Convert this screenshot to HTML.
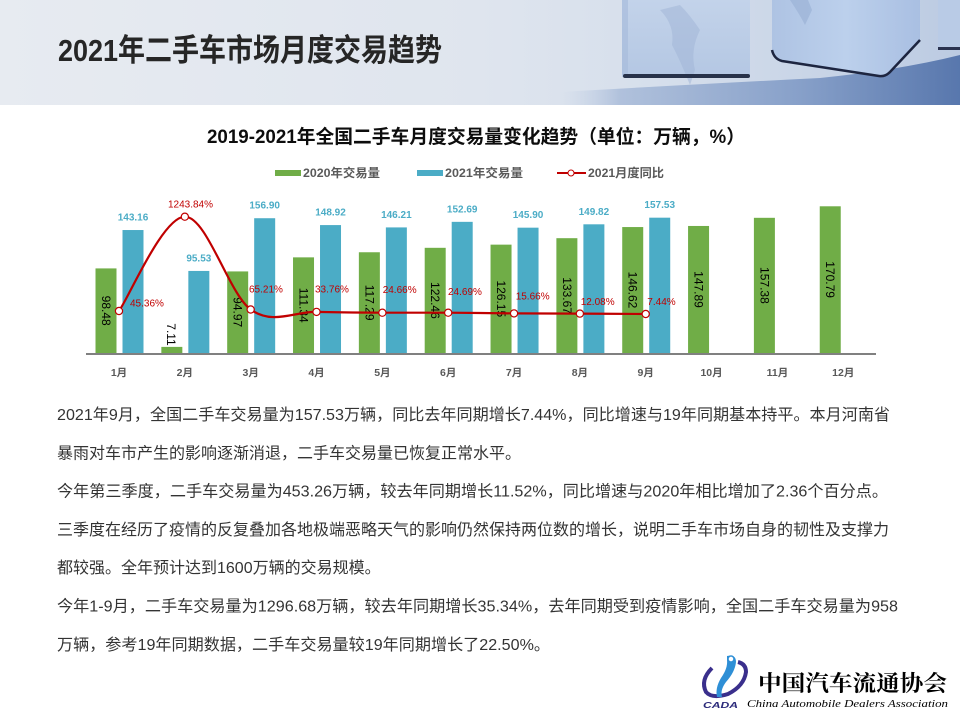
<!DOCTYPE html>
<html>
<head>
<meta charset="utf-8">
<style>
html,body{margin:0;padding:0;background:#fff;width:960px;height:720px;overflow:hidden;}
svg{display:block;}
.cjk{font-family:"Liberation Sans","Noto Sans CJK SC",sans-serif;}
</style>
</head>
<body>
<svg width="960" height="720" viewBox="0 0 960 720" xmlns="http://www.w3.org/2000/svg">
<defs>
  <linearGradient id="bg" x1="0" y1="0" x2="1" y2="0">
    <stop offset="0" stop-color="#e7ebf1"/>
    <stop offset="0.5" stop-color="#dfe5ee"/>
    <stop offset="0.68" stop-color="#d6dfec"/>
    <stop offset="1" stop-color="#bccbe2"/>
  </linearGradient>
  <linearGradient id="floor" x1="0" y1="0" x2="1" y2="0">
    <stop offset="0" stop-color="#c9d5e7" stop-opacity="0"/>
    <stop offset="0.15" stop-color="#b0c1dc"/>
    <stop offset="0.6" stop-color="#87a0c9"/>
    <stop offset="1" stop-color="#5877ad"/>
  </linearGradient>
  <linearGradient id="cubeA" x1="0" y1="0" x2="0" y2="1">
    <stop offset="0" stop-color="#c3d3ea"/>
    <stop offset="1" stop-color="#b4c7e3"/>
  </linearGradient>
  <linearGradient id="cubeB" x1="0" y1="0" x2="1" y2="0">
    <stop offset="0" stop-color="#aec3e3"/>
    <stop offset="0.5" stop-color="#bcd0ec"/>
    <stop offset="1" stop-color="#a9bfe2"/>
  </linearGradient>
</defs>

<!-- Banner -->
<rect x="0" y="0" width="960" height="105" fill="url(#bg)"/>
<path d="M560 105 L560 92 Q700 84 820 78 Q900 70 960 55 L960 105 Z" fill="url(#floor)"/>
<!-- cube A -->
<rect x="622" y="0" width="128" height="77" fill="url(#cubeA)"/>
<rect x="622" y="0" width="6" height="75" fill="#a8bcdc" opacity="0.7"/>
<path d="M660 10 Q675 25 672 45 Q680 60 690 85 L695 70 Q690 50 700 30 Q690 15 680 5 Z" fill="#9fb4d6" opacity="0.5"/>
<rect x="623" y="74" width="127" height="4" rx="2" fill="#27324a"/>
<!-- cube B -->
<path d="M772 0 L772 52 Q773 59 781 61 L879 76 Q885 77 890 72 L920 40 L920 0 Z" fill="url(#cubeB)"/>
<path d="M772 50 Q774 59 782 61 L879 76 Q885 77 890 72 L920 40" fill="none" stroke="#1d2540" stroke-width="2.5"/>
<path d="M790 0 Q800 15 805 25 L812 10 L808 0 Z" fill="#98afd3" opacity="0.6"/>
<!-- cube C -->
<rect x="938" y="0" width="22" height="50" fill="#b9cbe6"/>
<rect x="938" y="47" width="22" height="3" fill="#2a3350"/>

<text x="58" y="61" class="cjk" font-size="31" font-weight="bold" fill="#262626" textLength="384" lengthAdjust="spacingAndGlyphs">2021年二手车市场月度交易趋势</text>

<!-- Chart title -->
<text x="207" y="143" class="cjk" font-size="19" font-weight="bold" fill="#0d0d0d" textLength="538" lengthAdjust="spacingAndGlyphs">2019-2021年全国二手车月度交易量变化趋势（单位：万辆，%）</text>

<!-- Legend -->
<rect x="275" y="170" width="26" height="6" fill="#70AD47"/>
<text x="303" y="177" class="cjk" font-size="12" font-weight="bold" fill="#595959" textLength="77" lengthAdjust="spacingAndGlyphs">2020年交易量</text>
<rect x="417" y="170" width="26" height="6" fill="#4BACC6"/>
<text x="445" y="177" class="cjk" font-size="12" font-weight="bold" fill="#595959" textLength="78" lengthAdjust="spacingAndGlyphs">2021年交易量</text>
<line x1="557" y1="173" x2="586" y2="173" stroke="#C00000" stroke-width="2"/>
<circle cx="571" cy="173" r="3" fill="#fff" stroke="#C00000" stroke-width="1"/>
<text x="588" y="177" class="cjk" font-size="12" font-weight="bold" fill="#595959" textLength="76" lengthAdjust="spacingAndGlyphs">2021月度同比</text>

<!-- Green bars -->
<g fill="#70AD47">
  <rect x="95.5" y="268.41" width="21" height="84.59"/>
  <rect x="161.34" y="346.89" width="21" height="6.11"/>
  <rect x="227.18" y="271.42" width="21" height="81.58"/>
  <rect x="293.02" y="257.36" width="21" height="95.64"/>
  <rect x="358.86" y="252.25" width="21" height="100.75"/>
  <rect x="424.7" y="247.81" width="21" height="105.19"/>
  <rect x="490.54" y="244.64" width="21" height="108.36"/>
  <rect x="556.38" y="238.18" width="21" height="114.82"/>
  <rect x="622.22" y="227.05" width="21" height="125.95"/>
  <rect x="688.06" y="225.96" width="21" height="127.04"/>
  <rect x="753.9" y="217.81" width="21" height="135.19"/>
  <rect x="819.74" y="206.29" width="21" height="146.71"/>
</g>
<!-- Blue bars -->
<g fill="#4BACC6">
  <rect x="122.5" y="230.03" width="21" height="122.97"/>
  <rect x="188.34" y="270.94" width="21" height="82.06"/>
  <rect x="254.18" y="218.22" width="21" height="134.78"/>
  <rect x="320.02" y="225.08" width="21" height="127.92"/>
  <rect x="385.86" y="227.41" width="21" height="125.59"/>
  <rect x="451.7" y="221.84" width="21" height="131.16"/>
  <rect x="517.54" y="227.67" width="21" height="125.33"/>
  <rect x="583.38" y="224.31" width="21" height="128.69"/>
  <rect x="649.22" y="217.68" width="21" height="135.32"/>
</g>

<!-- axis -->
<line x1="86" y1="354" x2="876" y2="354" stroke="#808080" stroke-width="2"/>

<!-- category labels -->
<g font-family="'Liberation Sans','Noto Sans CJK SC',sans-serif" font-size="10.5" font-weight="bold" fill="#595959" text-anchor="middle">
  <text x="119" y="376">1月</text>
  <text x="184.84" y="376">2月</text>
  <text x="250.68" y="376">3月</text>
  <text x="316.52" y="376">4月</text>
  <text x="382.36" y="376">5月</text>
  <text x="448.2" y="376">6月</text>
  <text x="514.04" y="376">7月</text>
  <text x="579.88" y="376">8月</text>
  <text x="645.72" y="376">9月</text>
  <text x="711.56" y="376">10月</text>
  <text x="777.4" y="376">11月</text>
  <text x="843.24" y="376">12月</text>
</g>

<!-- blue value labels -->
<g font-family="'Liberation Sans',sans-serif" font-size="10" font-weight="bold" fill="#4BACC6" text-anchor="middle">
  <text x="133" y="220.5">143.16</text>
  <text x="198.84" y="261.4">95.53</text>
  <text x="264.68" y="208.7">156.90</text>
  <text x="330.52" y="215.6">148.92</text>
  <text x="396.36" y="217.9">146.21</text>
  <text x="462.2" y="212.3">152.69</text>
  <text x="528.04" y="218.2">145.90</text>
  <text x="593.88" y="214.8">149.82</text>
  <text x="659.72" y="208.2">157.53</text>
</g>

<!-- green value labels (rotated) -->
<g font-family="'Liberation Sans',sans-serif" font-size="12" fill="#000" text-anchor="middle" dominant-baseline="central">
  <text transform="translate(106,310.7) rotate(90)">98.48</text>
  <text transform="translate(171,334.5) rotate(90)">7.11</text>
  <text transform="translate(237.7,312.2) rotate(90)">94.97</text>
  <text transform="translate(303.5,305.2) rotate(90)">111.34</text>
  <text transform="translate(369.4,302.6) rotate(90)">117.29</text>
  <text transform="translate(435.2,300.4) rotate(90)">122.46</text>
  <text transform="translate(501,298.8) rotate(90)">126.15</text>
  <text transform="translate(566.9,295.6) rotate(90)">133.67</text>
  <text transform="translate(632.7,290) rotate(90)">146.62</text>
  <text transform="translate(698.6,289.5) rotate(90)">147.89</text>
  <text transform="translate(764.4,285.4) rotate(90)">157.38</text>
  <text transform="translate(830.2,279.6) rotate(90)">170.79</text>
</g>

<!-- YoY line -->
<path d="M119,311 C129.97,295.28 162.89,216.95 184.84,216.7 C206.79,216.45 228.73,293.63 250.68,309.5 C272.63,325.37 294.57,311.37 316.52,311.9 C338.47,312.43 360.41,312.57 382.36,312.7 C404.31,312.83 426.25,312.58 448.2,312.7 C470.15,312.82 492.09,313.25 514.04,313.4 C535.99,313.55 557.93,313.5 579.88,313.6 C601.83,313.7 634.75,313.93 645.72,314" fill="none" stroke="#C00000" stroke-width="2.2"/>
<g fill="#fff" stroke="#C00000" stroke-width="1.2">
  <circle cx="119" cy="311" r="3.6"/>
  <circle cx="184.84" cy="216.7" r="3.6"/>
  <circle cx="250.68" cy="309.5" r="3.6"/>
  <circle cx="316.52" cy="311.9" r="3.6"/>
  <circle cx="382.36" cy="312.7" r="3.6"/>
  <circle cx="448.2" cy="312.7" r="3.6"/>
  <circle cx="514.04" cy="313.4" r="3.6"/>
  <circle cx="579.88" cy="313.6" r="3.6"/>
  <circle cx="645.72" cy="314" r="3.6"/>
</g>
<g font-family="'Liberation Sans',sans-serif" font-size="10" fill="#C00000">
  <text x="130" y="306.3">45.36%</text>
  <text x="190.5" y="207.6" text-anchor="middle">1243.84%</text>
  <text x="249" y="292.6">65.21%</text>
  <text x="315" y="292.3">33.76%</text>
  <text x="382.7" y="292.9">24.66%</text>
  <text x="448" y="294.9">24.69%</text>
  <text x="515.7" y="299.3">15.66%</text>
  <text x="580.7" y="304.9">12.08%</text>
  <text x="647.3" y="304.9">7.44%</text>
</g>

<!-- Paragraph text -->
<g class="cjk" font-size="16" fill="#333">
  <text x="57" y="420" textLength="833" lengthAdjust="spacingAndGlyphs">2021年9月，全国二手车交易量为157.53万辆，同比去年同期增长7.44%，同比增速与19年同期基本持平。本月河南省</text>
  <text x="57" y="458.3">暴雨对车市产生的影响逐渐消退，二手车交易量已恢复正常水平。</text>
  <text x="57" y="496.6" textLength="831" lengthAdjust="spacingAndGlyphs">今年第三季度，二手车交易量为453.26万辆，较去年同期增长11.52%，同比增速与2020年相比增加了2.36个百分点。</text>
  <text x="57" y="534.9" textLength="832" lengthAdjust="spacingAndGlyphs">三季度在经历了疫情的反复叠加各地极端恶略天气的影响仍然保持两位数的增长，说明二手车市场自身的韧性及支撑力</text>
  <text x="57" y="573.2">都较强。全年预计达到1600万辆的交易规模。</text>
  <text x="57" y="611.5" textLength="841" lengthAdjust="spacingAndGlyphs">今年1-9月，二手车交易量为1296.68万辆，较去年同期增长35.34%，去年同期受到疫情影响，全国二手车交易量为958</text>
  <text x="57" y="649.8" textLength="493" lengthAdjust="spacingAndGlyphs">万辆，参考19年同期数据，二手车交易量较19年同期增长了22.50%。</text>
</g>

<!-- Logo -->
<g>
  <path d="M712 668 Q700 680 706 692 Q712 699 728 694 Q744 686 746 672 Q746 664 738 662" fill="none" stroke="#3a2f8c" stroke-width="4"/>
  <path d="M727 656 Q736 654 736 662 Q735 672 726 682 Q720 690 722 697 L717 697 Q715 688 721 678 Q728 668 727 660 Z" fill="#2e8fd6"/>
  <circle cx="731" cy="659" r="3" fill="#fff" stroke="#2e8fd6" stroke-width="1.5"/>
  <text x="703" y="708" font-family="'Liberation Sans',sans-serif" font-size="8.5" font-weight="bold" font-style="italic" fill="#2b2a7a" textLength="35" lengthAdjust="spacingAndGlyphs">CADA</text>
  <text x="758" y="691" font-family="'Noto Serif CJK SC','Liberation Serif',serif" font-size="22" font-weight="bold" fill="#000" textLength="189" lengthAdjust="spacingAndGlyphs">中国汽车流通协会</text>
  <text x="747" y="707" font-family="'Liberation Serif',serif" font-size="11" font-style="italic" fill="#000" textLength="201" lengthAdjust="spacingAndGlyphs">China Automobile Dealers Association</text>
</g>
</svg>
</body>
</html>
